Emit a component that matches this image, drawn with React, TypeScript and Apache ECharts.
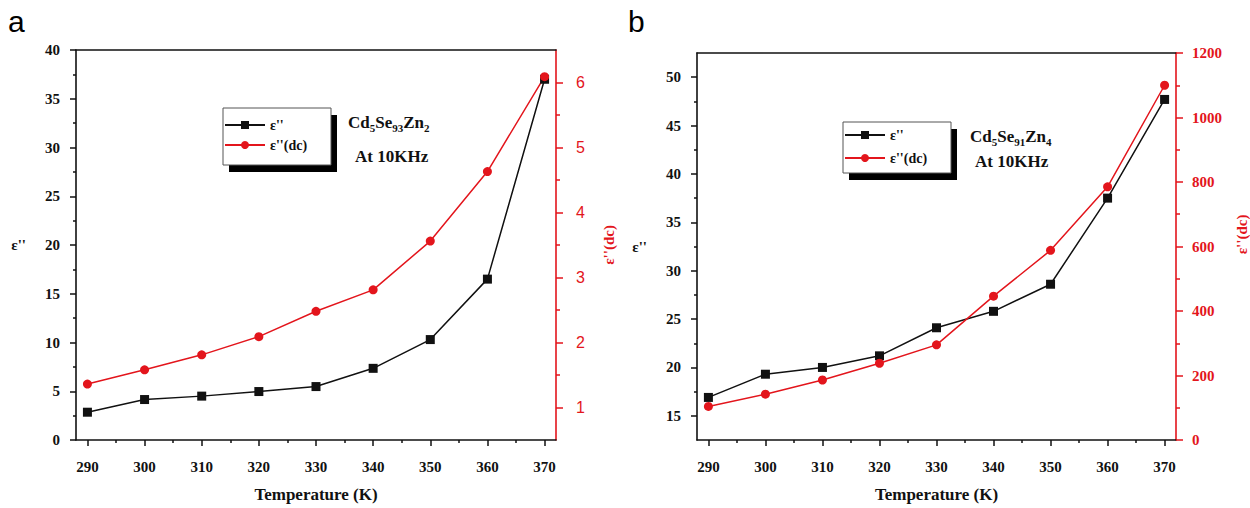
import React, { useEffect, useRef } from "react";
import * as echarts from "echarts";

const temps = [290, 300, 310, 320, 330, 340, 350, 360, 370];
const epsA = [2.85, 4.15, 4.5, 4.97, 5.48, 7.35, 10.3, 16.5, 37.0];
const epsDcA = [1.36, 1.58, 1.81, 2.09, 2.48, 2.81, 3.56, 4.63, 6.09];
const epsB = [16.9, 19.3, 20.0, 21.2, 24.1, 25.8, 28.6, 37.5, 47.7];
const epsDcB = [104, 142, 186, 238, 295, 446, 588, 785, 1100];

const xMajor = [290, 300, 310, 320, 330, 340, 350, 360, 370];
const xMinor = [295, 305, 315, 325, 335, 345, 355, 365];
const dcAMajor = [1, 2, 3, 4, 5, 6];
const dcAMinor = [1.5, 2.5, 3.5, 4.5, 5.5];
const bLeftMajor = [15, 20, 25, 30, 35, 40, 45, 50];
const bLeftMinor = [17.5, 22.5, 27.5, 32.5, 37.5, 42.5, 47.5];

const SERIF = "Liberation Serif";
const SANS = "Liberation Sans";
const RED = "#e3151c";
const BLACK = "#111";

export default function App() {
  const ref = useRef<HTMLDivElement>(null);
  useEffect(() => {
    document.body.style.margin = "0";
    const chart = echarts.init(ref.current!, null, { renderer: "svg" });
    const tickLbl = { fontFamily: SERIF, fontWeight: "bold", fontSize: 15, color: BLACK };
    const blackLine = { show: true, lineStyle: { color: BLACK, width: 1.6 } };
    const redLine = { show: true, lineStyle: { color: RED, width: 1.6 } };
    const plain = (v: number) => String(v);

    const mainX = (grid: number) => ({
      type: "value", gridIndex: grid, min: 288, max: 372, position: "bottom",
      axisLine: blackLine,
      axisTick: { show: true, inside: false, length: 6, customValues: xMajor, lineStyle: { color: BLACK, width: 1.5 } },
      axisLabel: { show: true, customValues: xMajor, margin: 19, formatter: plain, ...tickLbl },
      splitLine: { show: false },
      name: "Temperature (K)", nameLocation: "middle", nameGap: 46,
      nameTextStyle: { fontFamily: SERIF, fontWeight: "bold", fontSize: 17, color: BLACK },
    });
    const minorX = (grid: number) => ({
      type: "value", gridIndex: grid, min: 288, max: 372, position: "bottom",
      axisLine: { show: false },
      axisTick: { show: true, inside: false, length: 3, customValues: xMinor, lineStyle: { color: BLACK, width: 1.5 } },
      axisLabel: { show: false },
      splitLine: { show: false },
    });
    const topX = (grid: number) => ({
      type: "value", gridIndex: grid, min: 288, max: 372, position: "top",
      axisLine: blackLine, axisTick: { show: false }, axisLabel: { show: false }, splitLine: { show: false },
    });

    const legendBase = {
      orient: "vertical", itemWidth: 40, itemHeight: 10, padding: 0, selectedMode: false, z: 10,
      textStyle: { fontFamily: SERIF, fontWeight: "bold", fontSize: 14, color: BLACK },
      data: ["ε''", "ε''(dc)"],
    };

    const titleRich = {
      b: { fontFamily: SERIF, fontWeight: "bold", fontSize: 17, fill: BLACK },
      s: { fontFamily: SERIF, fontWeight: "bold", fontSize: 11, fill: BLACK, padding: [10, 0, 0, 0] },
    };

    const option: any = {
      animation: false,
      backgroundColor: "#fff",
      grid: [
        { left: 76, top: 50, width: 480, height: 394 },
        { left: 697, top: 53, width: 480, height: 392 },
      ],
      xAxis: [mainX(0), minorX(0), topX(0), mainX(1), minorX(1), topX(1)],
      yAxis: [
        {
          type: "value", gridIndex: 0, min: 0, max: 40, interval: 5, position: "left",
          axisLine: blackLine,
          axisTick: { show: true, length: 6, lineStyle: { color: BLACK, width: 1.5 } },
          minorTick: { show: true, splitNumber: 2, length: 3, lineStyle: { color: BLACK, width: 1.5 } },
          axisLabel: { margin: 16, formatter: plain, ...tickLbl },
          splitLine: { show: false }, minorSplitLine: { show: false },
          name: "ε''", nameLocation: "middle", nameRotate: 0, nameGap: 50,
          nameTextStyle: { fontFamily: SERIF, fontWeight: "bold", fontSize: 15, color: BLACK, padding: [0, 0, 20, 0] },
        },
        {
          type: "value", gridIndex: 0, min: 0.5, max: 6.5, position: "right",
          axisLine: redLine,
          axisTick: { show: true, length: 7, customValues: dcAMajor, lineStyle: { color: RED, width: 1.5 } },
          axisLabel: { customValues: dcAMajor, margin: 20, formatter: plain, fontFamily: SANS, fontSize: 16, color: RED },
          splitLine: { show: false },
          name: "ε''(dc)", nameLocation: "middle", nameRotate: 90, nameGap: 45,
          nameTextStyle: { fontFamily: SERIF, fontWeight: "bold", fontSize: 15, color: RED },
        },
        {
          type: "value", gridIndex: 0, min: 0.5, max: 6.5, position: "right",
          axisLine: { show: false },
          axisTick: { show: true, length: 4, customValues: dcAMinor, lineStyle: { color: RED, width: 1.5 } },
          axisLabel: { show: false }, splitLine: { show: false },
        },
        {
          type: "value", gridIndex: 1, min: 12.5, max: 52.5, position: "left",
          axisLine: blackLine,
          axisTick: { show: true, length: 6, customValues: bLeftMajor, lineStyle: { color: BLACK, width: 1.5 } },
          axisLabel: { customValues: bLeftMajor, margin: 16, formatter: plain, ...tickLbl },
          splitLine: { show: false },
          name: "ε''", nameLocation: "middle", nameRotate: 0, nameGap: 50,
          nameTextStyle: { fontFamily: SERIF, fontWeight: "bold", fontSize: 15, color: BLACK, padding: [0, 0, 20, 0] },
        },
        {
          type: "value", gridIndex: 1, min: 12.5, max: 52.5, position: "left",
          axisLine: { show: false },
          axisTick: { show: true, length: 3, customValues: bLeftMinor, lineStyle: { color: BLACK, width: 1.5 } },
          axisLabel: { show: false }, splitLine: { show: false },
        },
        {
          type: "value", gridIndex: 1, min: 0, max: 1200, interval: 200, position: "right",
          axisLine: redLine,
          axisTick: { show: true, length: 7, lineStyle: { color: RED, width: 1.5 } },
          minorTick: { show: true, splitNumber: 2, length: 4, lineStyle: { color: RED, width: 1.5 } },
          axisLabel: { margin: 16, formatter: plain, fontFamily: SERIF, fontWeight: "bold", fontSize: 15, color: RED },
          splitLine: { show: false }, minorSplitLine: { show: false },
          name: "ε''(dc)", nameLocation: "middle", nameRotate: 90, nameGap: 58,
          nameTextStyle: { fontFamily: SERIF, fontWeight: "bold", fontSize: 15, color: RED, padding: [0, 0, 0, 24] },
        },
      ],
      legend: [
        { ...legendBase, left: 224, top: 118, itemGap: 6 },
        { ...legendBase, left: 844, top: 128, itemGap: 9 },
      ],
      graphic: [
        { type: "text", left: 8, top: 6, style: { text: "a", fontFamily: SANS, fontSize: 30, fill: "#000" } },
        { type: "text", left: 628, top: 6, style: { text: "b", fontFamily: SANS, fontSize: 30, fill: "#000" } },
        { type: "rect", z: 3, shape: { x: 229, y: 115, width: 108, height: 57 }, style: { fill: "#000" } },
        { type: "rect", z: 4, shape: { x: 223, y: 108, width: 108, height: 57 }, style: { fill: "#fff", stroke: "#555", lineWidth: 1 } },
        { type: "rect", z: 3, shape: { x: 849, y: 129, width: 108, height: 51 }, style: { fill: "#000" } },
        { type: "rect", z: 4, shape: { x: 843, y: 122, width: 108, height: 51 }, style: { fill: "#fff", stroke: "#555", lineWidth: 1 } },
        { type: "text", z: 5, x: 348, y: 112, style: { text: "{b|Cd}{s|5}{b|Se}{s|93}{b|Zn}{s|2}", rich: titleRich } },
        { type: "text", z: 5, x: 355, y: 148, style: { text: "At 10KHz", fontFamily: SERIF, fontWeight: "bold", fontSize: 17, fill: BLACK } },
        { type: "text", z: 5, x: 970, y: 126, style: { text: "{b|Cd}{s|5}{b|Se}{s|91}{b|Zn}{s|4}", rich: titleRich } },
        { type: "text", z: 5, x: 975, y: 153, style: { text: "At 10KHz", fontFamily: SERIF, fontWeight: "bold", fontSize: 17, fill: BLACK } },
      ],
      series: [
        {
          name: "ε''", type: "line", xAxisIndex: 0, yAxisIndex: 0,
          data: temps.map((t, i) => [t, epsA[i]]),
          symbol: "rect", symbolSize: 9, lineStyle: { color: BLACK, width: 1.5 }, itemStyle: { color: BLACK },
        },
        {
          name: "ε''(dc)", type: "line", xAxisIndex: 0, yAxisIndex: 1,
          data: temps.map((t, i) => [t, epsDcA[i]]),
          symbol: "circle", symbolSize: 9, lineStyle: { color: RED, width: 1.5 }, itemStyle: { color: RED },
        },
        {
          name: "ε''", type: "line", xAxisIndex: 3, yAxisIndex: 3,
          data: temps.map((t, i) => [t, epsB[i]]),
          symbol: "rect", symbolSize: 9, lineStyle: { color: BLACK, width: 1.5 }, itemStyle: { color: BLACK },
        },
        {
          name: "ε''(dc)", type: "line", xAxisIndex: 3, yAxisIndex: 5,
          data: temps.map((t, i) => [t, epsDcB[i]]),
          symbol: "circle", symbolSize: 9, lineStyle: { color: RED, width: 1.5 }, itemStyle: { color: RED },
        },
      ],
    };
    chart.setOption(option);
    return () => chart.dispose();
  }, []);
  return <div ref={ref} style={{ width: 1250, height: 508 }} />;
}
